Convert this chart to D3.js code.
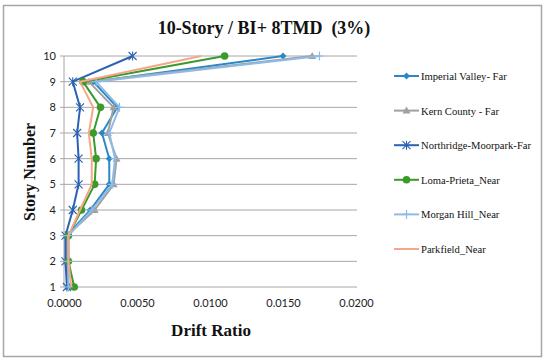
<!DOCTYPE html>
<html><head><meta charset="utf-8">
<script src="https://cdn.jsdelivr.net/npm/d3@7"></script>
<style>body{margin:0;background:#fff}svg{display:block}</style>
</head><body><svg id="c" width="550" height="363"></svg>
<script>
const stories = [1,2,3,4,5,6,7,8,9,10];
const seriesNames = ["Imperial Valley- Far","Kern County - Far","Northridge-Moorpark-Far","Loma-Prieta_Near","Morgan Hill_Near","Parkfield_Near"];
const imperialValley = [0.0003,0.0002,0.0002,0.0018,0.0031,0.0031,0.0026,0.00365,0.0020,0.0150];
const kernCounty     = [0.0003,0.0002,0.0002,0.0021,0.0034,0.0036,0.0030,0.0034,0.0017,0.0170];
const northridge     = [0.0002,0.0001,0.0001,0.0006,0.0010,0.0010,0.0009,0.0011,0.0006,0.0047];
const lomaPrieta     = [0.0007,0.0003,0.0003,0.0012,0.0021,0.0022,0.0020,0.0025,0.0013,0.0110];
const morganHill     = [0.0003,0.0003,0.0003,0.0019,0.0033,0.0035,0.0031,0.0038,0.0022,0.0175];
const parkfield      = [0.0005,0.0003,0.0003,0.0011,0.0019,0.0019,0.0017,0.0020,0.0011,0.0094];
const xTicks = [0,0.005,0.01,0.015,0.02];

const seriesValues = [imperialValley,kernCounty,northridge,lomaPrieta,morganHill,parkfield];
const colors = ["#2b88c8","#a0a0a0","#2a62b4","#3a9a2a","#8dbbe6","#f7a688"];
const markers = ["diamond","triangle","asterisk","circle","plus","none"];

const svg = d3.select("#c");
svg.append("rect").attr("x",3.5).attr("y",5.5).attr("width",538).attr("height",351)
  .attr("fill","#fff").attr("stroke","#a6a6a6").attr("stroke-width",1.5);

const x = d3.scaleLinear().domain([0,0.02]).range([64,356]);
const y = d3.scaleLinear().domain([1,10]).range([287,56]);

svg.append("g").selectAll("line").data(stories).join("line")
  .attr("x1",60).attr("x2",357).attr("y1",d=>y(d)).attr("y2",d=>y(d))
  .attr("stroke","#a6a6a6").attr("stroke-width",1);
svg.append("line").attr("x1",64).attr("x2",64).attr("y1",56).attr("y2",287)
  .attr("stroke","#a6a6a6").attr("stroke-width",1);

const yAxis = svg.append("g").attr("transform","translate(56,0)")
  .call(d3.axisLeft(y).tickValues(stories).tickSize(0).tickPadding(0).tickFormat(d3.format("d")));
yAxis.select(".domain").remove();
yAxis.selectAll("text").attr("font-family","Lato, 'Open Sans', sans-serif").attr("font-size",11).attr("fill","#222");

const xAxis = svg.append("g").attr("transform","translate(0,299)")
  .call(d3.axisBottom(x).tickValues(xTicks).tickSize(0).tickPadding(0).tickFormat(d3.format(".4f")));
xAxis.select(".domain").remove();
xAxis.selectAll("text").attr("font-family","Lato, 'Open Sans', sans-serif").attr("font-size",11).attr("fill","#222");

const line = d3.line().x(d=>x(d.v)).y(d=>y(d.s));

function drawMarker(g, type, color, cx, cy){
  if(type==="diamond"){
    g.append("path").attr("d",`M${cx},${cy-3.5}L${cx+3.5},${cy}L${cx},${cy+3.5}L${cx-3.5},${cy}Z`).attr("fill",color);
  } else if(type==="triangle"){
    g.append("path").attr("d",`M${cx},${cy-4}L${cx+4},${cy+3}L${cx-4},${cy+3}Z`).attr("fill",color);
  } else if(type==="circle"){
    g.append("circle").attr("cx",cx).attr("cy",cy).attr("r",3.8).attr("fill",color);
  } else if(type==="plus"){
    g.append("path").attr("d",`M${cx-4.5},${cy}H${cx+4.5}M${cx},${cy-4.5}V${cy+4.5}`).attr("stroke",color).attr("stroke-width",1.2);
  } else if(type==="asterisk"){
    g.append("path").attr("d",`M${cx-4},${cy-4}L${cx+4},${cy+4}M${cx-4},${cy+4}L${cx+4},${cy-4}M${cx},${cy-4.5}V${cy+4.5}`).attr("stroke",color).attr("stroke-width",1.1);
  }
}

seriesValues.forEach((vals,i)=>{
  const pts = vals.map((v,j)=>({v, s:stories[j]}));
  const g = svg.append("g");
  g.append("path").attr("d",line(pts)).attr("fill","none").attr("stroke",colors[i]).attr("stroke-width",2).attr("stroke-linejoin","round");
  pts.forEach(p=>drawMarker(g, markers[i], colors[i], x(p.v), y(p.s)));
});

const lg = svg.append("g");
seriesNames.forEach((n,i)=>{
  const ly = 76 + i*34.6;
  lg.append("line").attr("x1",394).attr("x2",419).attr("y1",ly).attr("y2",ly).attr("stroke",colors[i]).attr("stroke-width",2);
  drawMarker(lg, markers[i], colors[i], 406.5, ly);
  lg.append("text").attr("x",421).attr("y",ly+4).text(n)
    .attr("font-family","'Liberation Serif', serif").attr("font-size",10.6).attr("fill","#111");
});

svg.append("text").attr("x",264).attr("y",34).attr("text-anchor","middle")
  .attr("font-family","'Liberation Serif', serif").attr("font-weight","bold").attr("font-size",18)
  .attr("fill","#111").text("10-Story / BI+ 8TMD  (3%)").attr("style","white-space:pre");
svg.append("text").attr("x",211).attr("y",336).attr("text-anchor","middle")
  .attr("font-family","'Liberation Serif', serif").attr("font-weight","bold").attr("font-size",17)
  .attr("fill","#111").text("Drift Ratio");
svg.append("text").attr("transform","translate(35,172) rotate(-90)").attr("text-anchor","middle")
  .attr("font-family","'Liberation Serif', serif").attr("font-weight","bold").attr("font-size",16)
  .attr("fill","#111").text("Story Number");
</script></body></html>
